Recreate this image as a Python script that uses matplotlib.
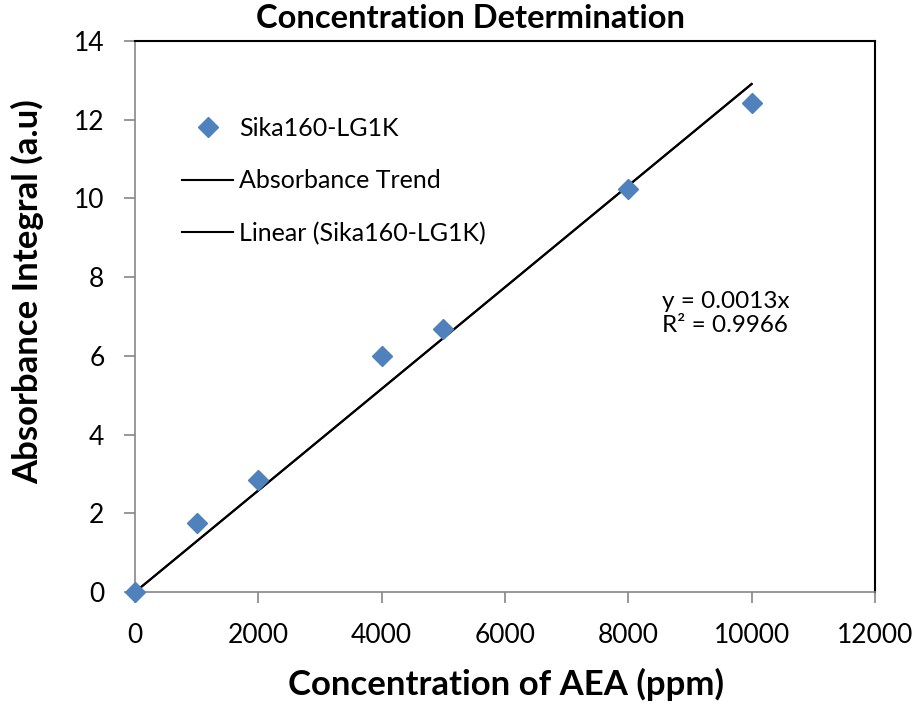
import matplotlib
matplotlib.use("Agg")
import matplotlib.pyplot as plt
import numpy as np

plt.rcParams['font.family'] = ['Lato', 'DejaVu Sans']

conc = [0, 1000, 2000, 4000, 5000, 8000, 10000]
absorb = [0.0, 1.75, 2.85, 6.0, 6.68, 10.25, 12.42]
trend_x = [0, 10000]
x_ticks = [0, 2000, 4000, 6000, 8000, 10000, 12000]
y_ticks = [0, 2, 4, 6, 8, 10, 12, 14]

# least-squares trend through the origin (Excel "set intercept = 0")
cx = np.array(conc, dtype=float)
cy = np.array(absorb, dtype=float)
slope = np.sum(cx * cy) / np.sum(cx * cx)

fig = plt.figure(figsize=(9.21, 7.04), dpi=100)
ax = fig.add_axes([0.1466, 0.159, 0.8034, 0.7828])

tx = np.array(trend_x, dtype=float)
ax.plot(tx, slope * tx, color='black', lw=1.5, label='Absorbance Trend', zorder=2)
ax.plot(tx, slope * tx, color='black', lw=1.5, label='Linear (Sika160-LG1K)', zorder=2)
ax.plot(conc, absorb, linestyle='none', marker='D', markersize=10, color='#4F81BD',
        label='Sika160-LG1K', zorder=3, clip_on=False)

ax.set_xlim(0, 12000)
ax.set_ylim(0, 14)
ax.set_xticks(x_ticks)
ax.set_yticks(y_ticks)
ax.tick_params(axis='both', direction='out', length=8, width=1.2, color='#868686',
               labelsize=19, labelcolor='black')
ax.tick_params(axis='x', pad=14)
ax.tick_params(axis='y', pad=14)
for s in ['left', 'bottom']:
    ax.spines[s].set_color('#868686')
    ax.spines[s].set_linewidth(1.2)
for s in ['top', 'right']:
    ax.spines[s].set_color('black')
    ax.spines[s].set_linewidth(1.5)

ax.set_xlabel('Concentration of AEA (ppm)', fontsize=25, fontweight='bold', va='center')
ax.xaxis.set_label_coords(0.502, -0.167)
ax.set_ylabel('Absorbance Integral (a.u)', fontsize=25, fontweight='bold', va='center')
ax.yaxis.set_label_coords(-0.145, 0.545)
fig.text(0.511, 0.974, 'Concentration Determination', fontsize=23.5, fontweight='bold',
         ha='center', va='center')

handles, labels = ax.get_legend_handles_labels()
order = [2, 0, 1]
leg = ax.legend([handles[i] for i in order], [labels[i] for i in order],
                loc='upper left', bbox_to_anchor=(0.0635, 0.862), frameon=False,
                borderaxespad=0, borderpad=0,
                fontsize=18, labelspacing=1.17, handlelength=2.04, handletextpad=0.24)

ax.text(0.712, 0.505, 'y = 0.0013x\nR² = 0.9966', transform=ax.transAxes,
        fontsize=17.5, ha='left', va='center', linespacing=1.2)

fig.savefig('out.png', dpi=100)
